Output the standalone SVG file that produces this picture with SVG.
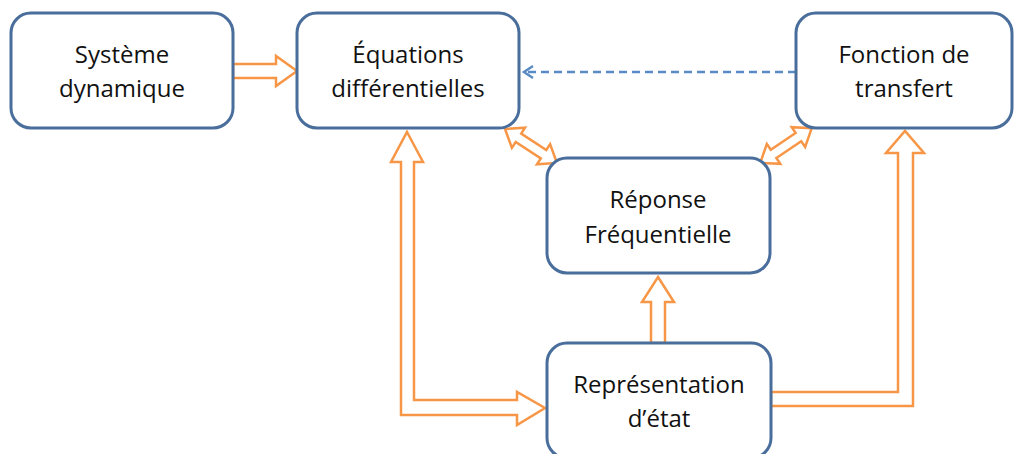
<svg xmlns="http://www.w3.org/2000/svg" width="1014" height="454" viewBox="0 0 1014 454">
  <defs>
    <style>
      .box { fill: #ffffff; stroke: #4A6E9C; stroke-width: 3; }
      .blk { fill: #ffffff; stroke: #F79646; stroke-width: 2.5; stroke-linejoin: miter; }
      .dash { fill: none; stroke: #5B8BC6; stroke-width: 2.5; stroke-dasharray: 8 5; }
      .head { fill: none; stroke: #5B8BC6; stroke-width: 2.5; }
      text { font-family: "Open Sans", "Noto Sans", sans-serif; font-size: 24px; fill: #111111; text-anchor: middle; }
    </style>
  </defs>
  <rect width="1014" height="454" fill="#ffffff"/>
  <g id="connectors">
    <polygon class="blk" points="233,64 276,64 276,56 297,71 276,86 276,78 233,78"/>
    <line class="dash" x1="796" y1="72" x2="525" y2="72"/>
    <polyline class="head" points="533,66 524,72 533,78"/>
    <polygon class="blk" transform="translate(531,146) rotate(33.2)" points="-31,0 -15,-12 -15,-5 15,-5 15,-12 31,0 15,12 15,5 -15,5 -15,12"/>
    <polygon class="blk" transform="translate(786,145.5) rotate(-34)" points="-31,0 -15,-12 -15,-5 15,-5 15,-12 31,0 15,12 15,5 -15,5 -15,12"/>
    <polygon class="blk" points="407,132 423,162 414,162 414,400 517,400 517,392 545,408 517,425 517,415 401,415 401,162 391,162"/>
    <polygon class="blk" points="658,277 674,302 665,302 665,343 651,343 651,302 642,302"/>
    <polygon class="blk" points="771,392 898,392 898,153 886,153 905,131 924,153 913,153 913,406 771,406"/>
  </g>
  <g id="node-systeme">
    <rect class="box" x="11" y="13" width="222" height="115" rx="20"/>
    <text x="122" y="63">Système</text>
    <text x="122" y="97">dynamique</text>
  </g>
  <g id="node-equations">
    <rect class="box" x="297" y="13" width="222" height="115" rx="20"/>
    <text x="408" y="63">Équations</text>
    <text x="408" y="97">différentielles</text>
  </g>
  <g id="node-fonction">
    <rect class="box" x="796" y="13" width="216" height="115" rx="20"/>
    <text x="904" y="63">Fonction de</text>
    <text x="904" y="97">transfert</text>
  </g>
  <g id="node-reponse">
    <rect class="box" x="547" y="158" width="223" height="115" rx="20"/>
    <text x="658" y="208">Réponse</text>
    <text x="658" y="243">Fréquentielle</text>
  </g>
  <g id="node-representation">
    <rect class="box" x="547" y="343" width="224" height="115" rx="20"/>
    <text x="659" y="393">Représentation</text>
    <text x="659" y="427">d’état</text>
  </g>
</svg>
